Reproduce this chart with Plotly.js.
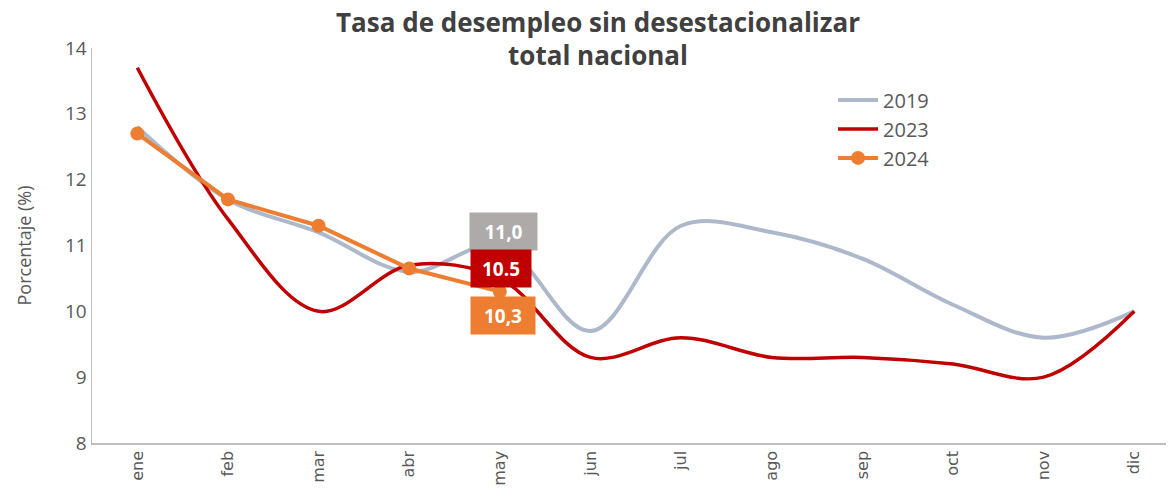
<!DOCTYPE html>
<html>
<head>
<meta charset="utf-8">
<script src="https://cdn.plot.ly/plotly-3.0.1.min.js"></script>
<style>html,body{margin:0;padding:0;background:#fff;}#chart{width:1168px;height:502px;}</style>
</head>
<body>
<div id="chart"></div>
<script>
const months = ["ene","feb","mar","abr","may","jun","jul","ago","sep","oct","nov","dic"];
const y2019 = [12.8, 11.7, 11.2, 10.6, 11.0, 9.7, 11.3, 11.2, 10.8, 10.1, 9.6, 10.0];
const y2023 = [13.7, 11.4, 10.0, 10.7, 10.5, 9.3, 9.6, 9.3, 9.3, 9.2, 9.0, 10.0];
const y2024 = [12.7, 11.7, 11.3, 10.65, 10.3];
const labelTexts = ["11,0", "10.5", "10,3"];

const traces = [
  {x: months, y: y2019, name: "2019", type: "scatter", mode: "lines",
   line: {color: "#ADB9CA", width: 4, shape: "spline", smoothing: 1}},
  {x: months, y: y2023, name: "2023", type: "scatter", mode: "lines",
   line: {color: "#C00000", width: 3.5, shape: "spline", smoothing: 1}},
  {x: months.slice(0, y2024.length), y: y2024, name: "2024", type: "scatter", mode: "lines+markers",
   line: {color: "#ED7D31", width: 4}, marker: {color: "#ED7D31", size: 14}}
];

const lastIdx = 4;
const annStyle = {font: {family: "Open Sans, Liberation Sans, sans-serif", size: 19, color: "#ffffff", weight: 700}};
const annotations = [
  Object.assign({x: months[lastIdx], y: y2019[lastIdx], xref: "x", yref: "y", text: "<b>" + labelTexts[0] + "</b>",
    showarrow: false, bgcolor: "#AEAAAA", width: 65, height: 35, borderpad: 1, xshift: 4, yshift: 14}, annStyle),
  Object.assign({x: months[lastIdx], y: y2023[lastIdx], xref: "x", yref: "y", text: "<b>" + labelTexts[1] + "</b>",
    showarrow: false, bgcolor: "#C00000", width: 58, height: 35, borderpad: 1, xshift: 1, yshift: 10}, annStyle),
  Object.assign({x: months[lastIdx], y: y2024[lastIdx], xref: "x", yref: "y", text: "<b>" + labelTexts[2] + "</b>",
    showarrow: false, bgcolor: "#ED7D31", width: 62, height: 35, borderpad: 1, xshift: 3, yshift: -24}, annStyle)
];

const layout = {
  width: 1168, height: 502,
  margin: {l: 92, r: 2, t: 48, b: 59},
  paper_bgcolor: "#ffffff", plot_bgcolor: "#ffffff",
  title: {
    text: "Tasa de desempleo sin desestacionalizar<br>total nacional",
    font: {family: "Open Sans, Liberation Sans, sans-serif", size: 26, color: "#404040", weight: 700},
    x: 0.512, xanchor: "center", y: 0.937, yanchor: "middle", yref: "container"
  },
  showlegend: true,
  legend: {x: 0.69, y: 0.918, xanchor: "left", yanchor: "top", bgcolor: "rgba(0,0,0,0)",
    font: {family: "Open Sans, Liberation Sans, sans-serif", size: 20, color: "#595959"}, tracegroupgap: 0, itemwidth: 40},
  xaxis: {
    type: "category", range: [-0.5, 11.35], tickangle: -90,
    showline: true, linecolor: "#BFBFBF", linewidth: 1.5, showgrid: false, zeroline: false, ticks: "",
    tickfont: {family: "DejaVu Sans, sans-serif", size: 16, color: "#595959"}, fixedrange: true
  },
  yaxis: {
    range: [8, 14], dtick: 1, showline: true, linecolor: "#BFBFBF", linewidth: 1.5,
    showgrid: false, zeroline: false, ticks: "",
    tickfont: {family: "Open Sans, Liberation Sans, sans-serif", size: 19, color: "#595959"},
    title: {text: "Porcentaje (%)", font: {family: "Open Sans, Liberation Sans, sans-serif", size: 18, color: "#595959"}, standoff: 28}
  },
  annotations: annotations
};

Plotly.newPlot("chart", traces, layout, {displayModeBar: false, staticPlot: true});
</script>
</body>
</html>
